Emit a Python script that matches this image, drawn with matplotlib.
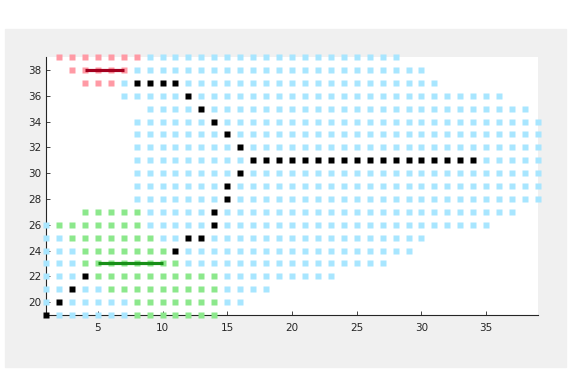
import numpy as np
import matplotlib
matplotlib.use("Agg")
import matplotlib.pyplot as plt
from matplotlib.patches import Rectangle

# occupied grid: for each row y, first and last column with a cell
rows = [19, 20, 21, 22, 23, 24, 25, 26, 27, 28, 29, 30, 31, 32, 33, 34, 35, 36, 37, 38, 39]
row_first = [1, 1, 1, 1, 1, 1, 1, 1, 4, 8, 8, 8, 8, 8, 8, 8, 9, 7, 4, 3, 2]
row_last = [14, 16, 18, 23, 27, 29, 30, 35, 37, 39, 39, 39, 39, 39, 39, 39, 38, 36, 31, 30, 28]

# red block around the start segment
red_rows = [37, 38, 39]
red_first = [4, 3, 2]
red_last = [6, 7, 8]

# green block around the goal segment
green_rows = [19, 20, 21, 22, 23, 24, 25, 26, 27]
green_first = [8, 8, 6, 5, 4, 4, 3, 2, 4]
green_last = [14, 14, 14, 14, 11, 10, 9, 8, 8]

# path cells (black)
path_x = [1, 2, 3, 4, 11, 12, 13, 14, 14, 15, 15, 16,
          17, 18, 19, 20, 21, 22, 23, 24, 25, 26, 27, 28, 29, 30, 31, 32, 33, 34,
          16, 15, 14, 13, 12, 11, 10, 9, 8]
path_y = [19, 20, 21, 22, 24, 25, 25, 26, 27, 28, 29, 30,
          31, 31, 31, 31, 31, 31, 31, 31, 31, 31, 31, 31, 31, 31, 31, 31, 31, 31,
          32, 33, 34, 35, 36, 37, 37, 37, 37]

# start / goal segments
start_x = [4, 7]
start_y = [38, 38]
goal_x = [5, 10]
goal_y = [23, 23]


def cells(ys, firsts, lasts):
    out = set()
    for y, a, b in zip(ys, firsts, lasts):
        for x in range(a, b + 1):
            out.add((x, y))
    return out


red = cells(red_rows, red_first, red_last)
green = cells(green_rows, green_first, green_last)
black = set(zip(path_x, path_y))
blue = cells(rows, row_first, row_last) - red - green - black

fig = plt.figure(figsize=(5.71, 3.71), dpi=100, facecolor="white")
# grey window panel behind the axes
fig.patches.append(Rectangle((5 / 571, 4 / 371), 561 / 571, 338 / 371,
                             transform=fig.transFigure, color="#f0f0f0", zorder=-5))
ax = fig.add_axes([0.0806, 0.1509, 0.8616, 0.6954])
ax.set_facecolor("white")

ms = 4.5
for grp, col in [(blue, "#a8e6ff"), (red, "#ff9aa5"), (green, "#8ce88c"), (black, "black")]:
    pts = sorted(grp)
    ax.plot([p[0] for p in pts], [p[1] for p in pts], "s", color=col, ms=ms,
            mec="none", clip_on=False, zorder=3)

ax.plot(start_x, start_y, color="#a3001f", lw=2.3, zorder=4, solid_capstyle="butt")
ax.plot(goal_x, goal_y, color="#178f17", lw=2.3, zorder=4, solid_capstyle="butt")

ax.set_xlim(1, 39)
ax.set_ylim(19, 39)
ax.set_xticks([5, 10, 15, 20, 25, 30, 35])
ax.set_yticks([20, 22, 24, 26, 28, 30, 32, 34, 36, 38])

for s in ["top", "right"]:
    ax.spines[s].set_visible(False)
for s in ["left", "bottom"]:
    ax.spines[s].set_color("#262626")
    ax.spines[s].set_linewidth(0.8)

ax.tick_params(direction="in", length=3, width=0.6, color="#262626",
               labelcolor="#262626", labelsize=7.5)
ax.tick_params(axis="x", pad=5.5)
ax.tick_params(axis="y", pad=3.5)

fig.savefig("out.png", dpi=100, facecolor=fig.get_facecolor())
